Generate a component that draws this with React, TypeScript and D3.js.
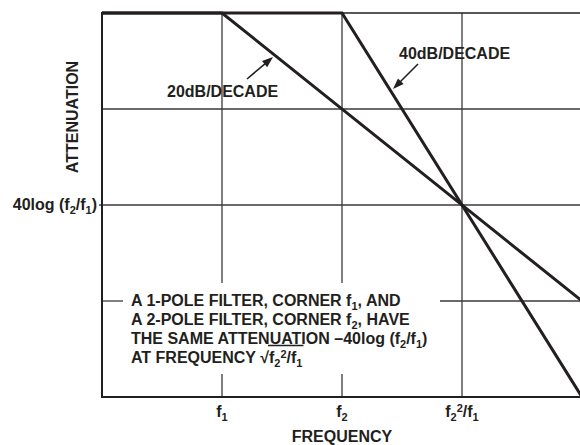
import React, { useLayoutEffect, useRef, useState } from "react";
import * as d3 from "d3";

// ---- data ----
const freqTicks = [1, 10, 100]; // f1, f2, f2^2/f1 (decades apart)
const freqTickLabels = [
  [{ t: "f" }, { t: "1", s: "sub" }],
  [{ t: "f" }, { t: "2", s: "sub" }],
  [{ t: "f" }, { t: "2", s: "sub" }, { t: "2", s: "sup" }, { t: "/f" }, { t: "1", s: "sub" }],
];
const attenGrid = [20, 40, 60];
const onePoleF = [0.1, 1, 1000];
const onePoleDb = [0, 0, 60];
const twoPoleF = [0.1, 10, 1000];
const twoPoleDb = [0, 0, 80];
const yTickValue = 40;
const yTickLabel = [{ t: "40log (f" }, { t: "2", s: "sub" }, { t: "/f" }, { t: "1", s: "sub" }, { t: ")" }];
const noteLines = [
  [{ t: "A 1-POLE FILTER, CORNER f" }, { t: "1", s: "sub" }, { t: ", AND" }],
  [{ t: "A 2-POLE FILTER, CORNER f" }, { t: "2", s: "sub" }, { t: ", HAVE" }],
  [{ t: "THE SAME ATTENUATION \u201340log (f" }, { t: "2", s: "sub" }, { t: "/f" }, { t: "1", s: "sub" }, { t: ")" }],
  [{ t: "AT FREQUENCY \u221A" }, { t: "f" }, { t: "2", s: "sub" }, { t: "2", s: "sup" }, { t: "/f" }, { t: "1", s: "sub" }],
];

const W = 580;
const H = 445;
const FONT = "'Liberation Sans', Arial, sans-serif";
const FS = 16;
const SUBFS = 11;
const SUB = 4;
const SUP = -5;
const INK = "#231f20";

type Seg = { t: string; s?: string };

function Rich({ segs, ...rest }: { segs: Seg[]; [k: string]: any }) {
  let cur = 0;
  return (
    <text {...rest}>
      {segs.map((sg, i) => {
        const target = sg.s === "sub" ? SUB : sg.s === "sup" ? SUP : 0;
        const dy = target - cur;
        cur = target;
        return (
          <tspan key={i} dy={dy} fontSize={sg.s ? SUBFS : undefined}>
            {sg.t}
          </tspan>
        );
      })}
    </text>
  );
}

export default function App() {
  const x = d3.scaleLog().domain([0.1, 1000]).range([102, 582]);
  const y = d3.scaleLinear().domain([0, 80]).range([13, 397]);
  const [x0, x1] = [102, 580];
  const [yTop, yBot] = [13, 397];

  const line = d3
    .line<[number, number]>()
    .x((d) => x(d[0]))
    .y((d) => y(d[1]));
  const one = onePoleF.map((f, i) => [f, onePoleDb[i]] as [number, number]);
  const two = twoPoleF.map((f, i) => [f, twoPoleDb[i]] as [number, number]);

  // text box gap region
  const gapTop = 283;
  const gapBot = 374;
  const gapL = 123;
  const gapR = 440;

  const noteRef = useRef<SVGTextElement>(null);
  const [vinc, setVinc] = useState<null | { a: number; b: number }>(null);
  useLayoutEffect(() => {
    const el = noteRef.current;
    if (!el) return;
    const n = el.getNumberOfChars();
    const txt = el.textContent || "";
    const idx = txt.indexOf("\u221A");
    if (idx < 0) return;
    const r0 = el.getExtentOfChar(idx);
    const r1 = el.getExtentOfChar(n - 1);
    setVinc({ a: r0.x + r0.width - 1, b: r1.x + r1.width + 1 });
  }, []);

  const gridStroke = "#3a3a3a";
  const gw = 1.3;

  const arrowHead = (tx: number, ty: number, fx: number, fy: number) => {
    const ang = Math.atan2(ty - fy, tx - fx);
    const L = 11;
    const Wd = 4;
    const bx = tx - L * Math.cos(ang);
    const by = ty - L * Math.sin(ang);
    const px = -Math.sin(ang) * Wd;
    const py = Math.cos(ang) * Wd;
    return `M${tx},${ty}L${bx + px},${by + py}L${bx - px},${by - py}Z`;
  };

  const a20 = { tx: 273, ty: 57, fx: 247, fy: 79 };
  const a40 = { tx: 393, ty: 89, fx: 418, fy: 64 };

  return (
    <div style={{ position: "fixed", left: 0, top: 0 }}>
      <svg width={W} height={H} style={{ display: "block", background: "#fff" }} fontFamily={FONT} fontWeight="bold">
        <defs>
          <clipPath id="plot">
            <rect x={x0} y={0} width={x1 - x0} height={yBot + 2} />
          </clipPath>
        </defs>
        {/* horizontal grid */}
        {attenGrid.map((v) =>
          v === 60 ? (
            <g key={v}>
              <line x1={x0} x2={gapL} y1={y(v)} y2={y(v)} stroke={gridStroke} strokeWidth={gw} />
              <line x1={gapR} x2={x1} y1={y(v)} y2={y(v)} stroke={gridStroke} strokeWidth={gw} />
            </g>
          ) : (
            <line key={v} x1={x0} x2={x1} y1={y(v)} y2={y(v)} stroke={gridStroke} strokeWidth={gw} />
          )
        )}
        {/* vertical grid */}
        {freqTicks.map((f) =>
          f < 100 ? (
            <g key={f}>
              <line x1={x(f)} x2={x(f)} y1={yTop} y2={gapTop} stroke={gridStroke} strokeWidth={gw} />
              <line x1={x(f)} x2={x(f)} y1={gapBot} y2={yBot} stroke={gridStroke} strokeWidth={gw} />
            </g>
          ) : (
            <line key={f} x1={x(f)} x2={x(f)} y1={yTop} y2={yBot} stroke={gridStroke} strokeWidth={gw} />
          )
        )}
        {/* frame */}
        <line x1={x0} x2={x1} y1={yTop} y2={yTop} stroke={INK} strokeWidth={1.3} />
        <line x1={x0} x2={x0} y1={yTop - 1} y2={yBot + 1} stroke={INK} strokeWidth={2} />
        <line x1={x0 - 1} x2={x1} y1={yBot} y2={yBot} stroke={INK} strokeWidth={2} />
        <line x1={x0 - 3} x2={x0} y1={y(yTickValue)} y2={y(yTickValue)} stroke={INK} strokeWidth={1.3} />

        {/* responses */}
        <g clipPath="url(#plot)">
          <path d={line(one) || ""} fill="none" stroke={INK} strokeWidth={3} strokeLinejoin="miter" />
          <path d={line(two) || ""} fill="none" stroke={INK} strokeWidth={3} strokeLinejoin="miter" />
        </g>

        {/* arrows */}
        {[a20, a40].map((a, i) => (
          <g key={i}>
            <line x1={a.fx} y1={a.fy} x2={a.tx - (a.tx - a.fx) * 0.3} y2={a.ty - (a.ty - a.fy) * 0.3} stroke={INK} strokeWidth={1.6} />
            <path d={arrowHead(a.tx, a.ty, a.fx, a.fy)} fill={INK} />
          </g>
        ))}
        <text x={167} y={97} fontSize={FS} fill={INK}>20dB/DECADE</text>
        <text x={399} y={59} fontSize={FS} fill={INK}>40dB/DECADE</text>

        {/* y axis */}
        <text transform="translate(78,117) rotate(-90)" textAnchor="middle" fontSize={FS} fill={INK}>ATTENUATION</text>
        <Rich segs={yTickLabel} x={97} y={y(yTickValue) + 5} textAnchor="end" fontSize={FS} fill={INK} />

        {/* x axis */}
        {freqTicks.map((f, i) => (
          <Rich key={f} segs={freqTickLabels[i]} x={x(f)} y={417} textAnchor="middle" fontSize={FS} fill={INK} />
        ))}
        <text x={x(10)} y={442} textAnchor="middle" fontSize={FS} fill={INK}>FREQUENCY</text>

        {/* note */}
        <text ref={noteRef} x={131} y={306} fontSize={FS} fill={INK}>
          {noteLines.map((segs, li) => {
            let cur = 0;
            return segs.map((sg, i) => {
              const target = sg.s === "sub" ? SUB : sg.s === "sup" ? SUP : 0;
              let dy: number;
              if (i === 0) {
                dy = li === 0 ? 0 : 19;
                cur = 0;
              } else {
                dy = target - cur;
                cur = target;
              }
              const props: any = {};
              if (i === 0) props.x = 131;
              const isLast = i === segs.length - 1;
              // return baseline before next line
              const out = [
                <tspan key={`${li}-${i}`} dy={dy} fontSize={sg.s ? SUBFS : undefined} {...props}>
                  {sg.t}
                </tspan>,
              ];
              if (isLast && cur !== 0) {
                out.push(
                  <tspan key={`${li}-${i}-r`} dy={-cur}>{""}</tspan>
                );
              }
              return out;
            });
          })}
        </text>
        {vinc && <line x1={vinc.a} x2={vinc.b} y1={345.5} y2={345.5} stroke={INK} strokeWidth={1.3} />}
      </svg>
    </div>
  );
}
